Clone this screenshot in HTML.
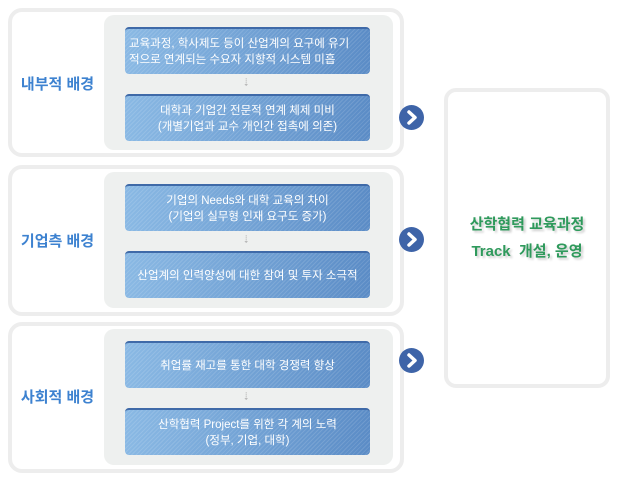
<!DOCTYPE html>
<html><head><meta charset="utf-8"><style>
body{margin:0;width:630px;height:480px;background:#fff;position:relative;overflow:hidden;font-family:"Liberation Sans","Noto Sans CJK KR","NanumGothic",sans-serif}
.o{position:absolute;left:8px;width:396px;border:4px solid #ededed;border-radius:14px;background:#fff;box-sizing:border-box}
.g{position:absolute;left:104px;width:289px;background:#eef0ef;border-radius:10px}
.b{position:absolute;left:125px;width:245px;height:47px;border-radius:4px;border-top:2px solid #3f6aa8;box-sizing:border-box;
background:repeating-linear-gradient(135deg,rgba(255,255,255,.12) 0 1px,transparent 1px 3px),linear-gradient(90deg,#8ab9e4,#5b8cc6);
color:#fff;font-size:11.5px;line-height:16px;display:flex;align-items:center;justify-content:center;text-align:center}
.l{position:absolute;left:10px;width:95px;text-align:center;color:#3d82d0;font-size:15px;font-weight:bold}
.d{position:absolute;left:242px;color:#aaa;font-size:9px}
.a{position:absolute;left:399px;width:25px;height:25px;border-radius:50%;background:#3e64a8}
.a svg{position:absolute;left:0;top:0}
.r{position:absolute;left:444px;top:88px;width:166px;height:300px;border:4px solid #ededed;border-radius:12px;box-sizing:border-box;display:flex;flex-direction:column;align-items:center;justify-content:center;color:#2f9a5c;font-size:15px;font-weight:bold;line-height:27px;text-shadow:2px 2px 2px #ccc}
</style></head><body>
<div class="o" style="top:8px;height:149px"></div><div class="g" style="top:15px;height:135px"></div>
<div class="l" style="top:73px">내부적 배경</div>
<div class="b" style="top:27px;text-align:left;justify-content:flex-start;padding-left:4px">교육과정, 학사제도 등이 산업계의 요구에 유기<br>적으로 연계되는 수요자 지향적 시스템 미흡</div>
<div class="d" style="top:77px">⇣</div>
<div class="b" style="top:94px">대학과 기업간 전문적 연계 체제 미비<br>(개별기업과 교수 개인간 접촉에 의존)</div>

<div class="o" style="top:165px;height:151px"></div><div class="g" style="top:172px;height:136px"></div>
<div class="l" style="top:230px">기업측 배경</div>
<div class="b" style="top:184px">기업의 Needs와 대학 교육의 차이<br>(기업의 실무형 인재 요구도 증가)</div>
<div class="d" style="top:234px">⇣</div>
<div class="b" style="top:251px">산업계의 인력양성에 대한 참여 및 투자 소극적</div>

<div class="o" style="top:322px;height:151px"></div><div class="g" style="top:329px;height:136px"></div>
<div class="l" style="top:386px">사회적 배경</div>
<div class="b" style="top:341px">취업률 재고를 통한 대학 경쟁력 향상</div>
<div class="d" style="top:391px">⇣</div>
<div class="b" style="top:408px">산학협력 Project를 위한 각 계의 노력<br>(정부, 기업, 대학)</div>

<div class="a" style="top:105px"><svg width="25" height="25"><path d="M10 7 L16 12.5 L10 18" fill="none" stroke="#fff" stroke-width="3.5" stroke-linecap="round" stroke-linejoin="round"/></svg></div>
<div class="a" style="top:227px"><svg width="25" height="25"><path d="M10 7 L16 12.5 L10 18" fill="none" stroke="#fff" stroke-width="3.5" stroke-linecap="round" stroke-linejoin="round"/></svg></div>
<div class="a" style="top:348px"><svg width="25" height="25"><path d="M10 7 L16 12.5 L10 18" fill="none" stroke="#fff" stroke-width="3.5" stroke-linecap="round" stroke-linejoin="round"/></svg></div>
<div class="r"><div>산학협력 교육과정</div><div>Track&nbsp; 개설, 운영</div></div>
</body></html>
